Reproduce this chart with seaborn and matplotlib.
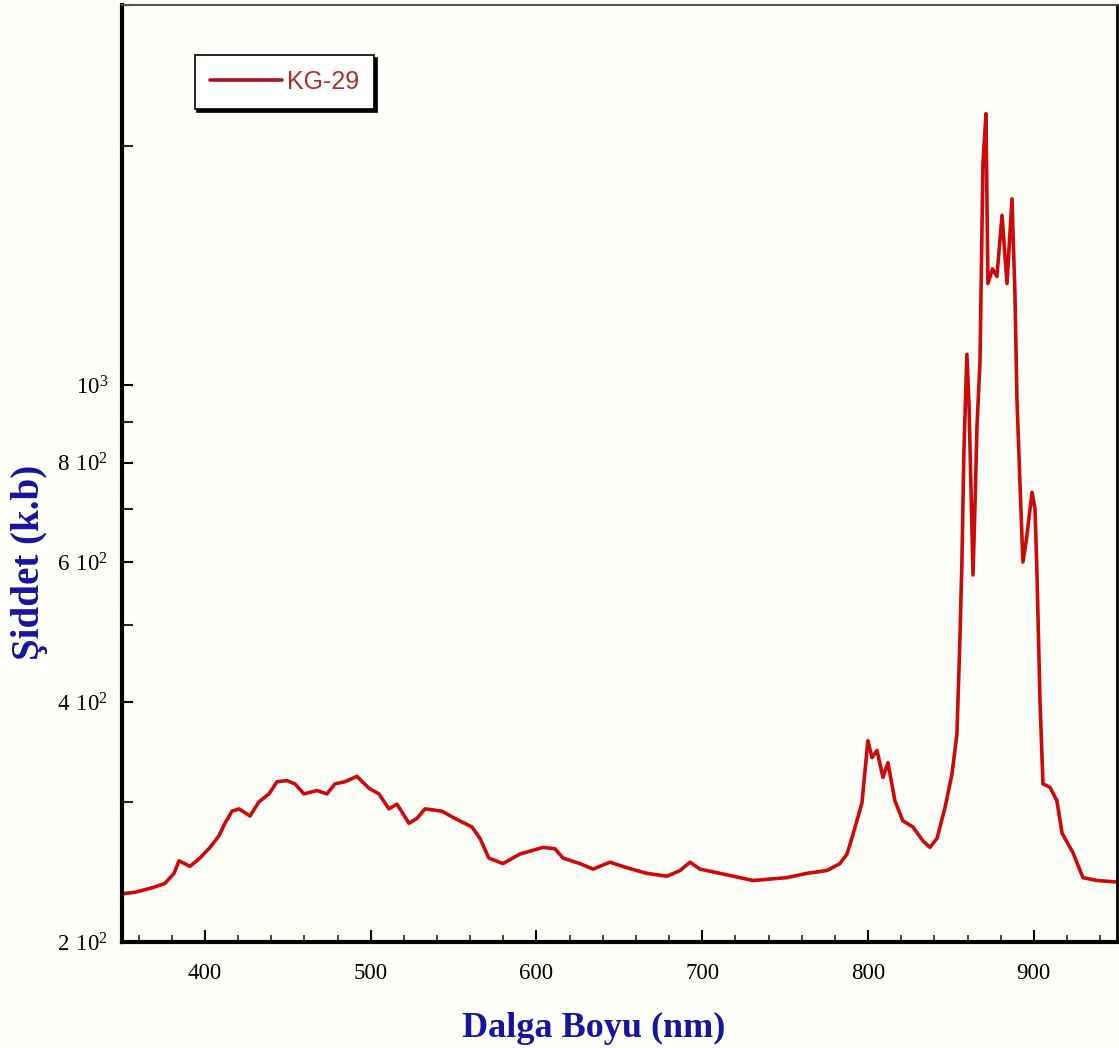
import matplotlib
matplotlib.use("Agg")
import matplotlib.pyplot as plt
from matplotlib.ticker import FixedLocator, FixedFormatter, NullFormatter, MultipleLocator
import numpy as np
import pandas as pd
import seaborn as sns

# Spectrum of sample KG-29: wavelength (nm) and intensity (arb. units)
wavelength = [
    350.0, 357.8, 368.1, 375.9, 381.4, 384.4, 391.0, 397.0, 403.1, 408.5,
    412.1, 416.3, 420.6, 427.2, 432.6, 438.7, 443.5, 449.5, 454.3, 459.8,
    467.6, 473.6, 478.5, 484.5, 491.7, 499.0, 505.0, 511.0, 515.9, 523.1,
    527.9, 532.8, 543.0, 550.8, 561.1, 565.9, 571.3, 579.8, 590.0, 603.9,
    611.2, 616.0, 626.2, 634.1, 644.3, 654.6, 666.6, 678.7, 686.6, 692.6,
    698.6, 710.7, 722.7, 730.6, 740.8, 751.1, 763.1, 775.2, 783.0, 787.3,
    790.9, 796.3, 799.9, 802.4, 805.4, 809.0, 812.0, 816.2, 821.0, 827.1,
    833.1, 837.3, 841.6, 846.4, 850.6, 853.6, 855.4, 856.6, 857.8, 859.6,
    860.9, 863.3, 864.5, 865.7, 867.5, 869.3, 871.1, 872.3, 875.0, 877.7,
    880.8, 883.8, 886.8, 888.6, 889.8, 891.6, 893.4, 895.5, 898.9, 900.7,
    901.9, 903.7, 905.5, 909.7, 913.9, 917.0, 923.6, 929.6, 938.1, 950.0,
]
intensity = [
    230, 231, 234, 237, 244, 253, 249, 255, 263, 272,
    282, 292, 294, 288, 300, 307, 318, 319, 316, 307,
    310, 307, 316, 318, 323, 312, 307, 294, 298, 282,
    286, 294, 292, 286, 279, 270, 255, 251, 258, 263,
    262, 255, 251, 247, 252, 248, 244, 242, 246, 252,
    247, 244, 241, 239, 240, 241, 244, 246, 251, 258,
    273, 299, 358, 341, 348, 322, 336, 301, 284, 279,
    268, 263, 270, 295, 325, 365, 480, 600, 824, 1094,
    944, 578, 709, 890, 1068, 1898, 2193, 1342, 1400, 1370,
    1634, 1342, 1714, 1300, 960, 756, 600, 640, 734, 700,
    578, 401, 316, 313, 301, 274, 259, 241, 239, 238,
]

x_major = [400, 500, 600, 700, 800, 900]
y_major = [200, 400, 600, 800, 1000]
y_major_labels = [r"$\mathregular{2\ 10^{2}}$", r"$\mathregular{4\ 10^{2}}$",
                  r"$\mathregular{6\ 10^{2}}$", r"$\mathregular{8\ 10^{2}}$",
                  r"$\mathregular{10^{3}}$"]
y_minor = [300, 500, 700, 900, 2000, 3000]

df = pd.DataFrame({"Dalga Boyu (nm)": wavelength, "Şiddet (k.b)": intensity})

sns.set_style("ticks")
plt.rcParams["font.family"] = ["Liberation Serif", "DejaVu Serif"]
plt.rcParams["mathtext.fontset"] = "custom"
plt.rcParams["mathtext.rm"] = "Liberation Serif"

fig = plt.figure(figsize=(11.19, 10.48), dpi=100, facecolor="#fffffc")
ax = fig.add_axes([0.109, 0.101, 0.889, 0.894])
ax.set_facecolor("#fffffa")

sns.lineplot(data=df, x="Dalga Boyu (nm)", y="Şiddet (k.b)", ax=ax,
             color="#cc0a0a", linewidth=2.6, label="KG-29", sort=False)

ax.set_yscale("log")
ax.set_xlim(350, 950)
ax.set_ylim(200, 3000)

ax.xaxis.set_major_locator(FixedLocator(x_major))
ax.xaxis.set_minor_locator(MultipleLocator(20))
ax.yaxis.set_major_locator(FixedLocator(y_major))
ax.yaxis.set_major_formatter(FixedFormatter(y_major_labels))
ax.yaxis.set_minor_locator(FixedLocator(y_minor))
ax.yaxis.set_minor_formatter(NullFormatter())

ax.tick_params(axis="x", which="major", direction="in", length=9, width=1.5,
               labelsize=16.5, pad=15, colors="black")
ax.tick_params(axis="x", which="minor", direction="in", length=5, width=1.2)
ax.tick_params(axis="y", which="major", direction="in", length=8, width=1.5,
               labelsize=16.5, pad=10, colors="black")
ax.tick_params(axis="y", which="minor", direction="in", length=8, width=1.5)

for side, lw in (("left", 3.0), ("bottom", 3.0), ("right", 2.0), ("top", 1.5)):
    ax.spines[side].set_visible(True)
    ax.spines[side].set_linewidth(lw)
    ax.spines[side].set_color("black")
ax.spines["top"].set_color("#555555")

label_color = "#1515a0"
ax.set_xlabel("Dalga Boyu (nm)", fontsize=26, fontweight="bold", color=label_color)
ax.set_ylabel("Şiddet (k.b)", fontsize=28, fontweight="bold", color=label_color)
ax.xaxis.set_label_coords(0.474, -0.074)
ax.yaxis.set_label_coords(-0.0744, 0.405)

leg = ax.legend(loc="upper left", bbox_to_anchor=(0.073, 0.947), frameon=True,
                fancybox=False, shadow={"color": "black", "alpha": 1.0},
                prop={"family": "Liberation Sans", "size": 18},
                handlelength=2.9, handletextpad=0.2, borderpad=0.6,
                borderaxespad=0.0)
leg.get_frame().set_edgecolor("black")
leg.get_frame().set_linewidth(1.2)
leg.get_frame().set_facecolor("white")
for t in leg.get_texts():
    t.set_color("#a8302a")
for h in leg.get_lines():
    h.set_color("#a81414")
    h.set_linewidth(2.6)

fig.savefig("out.png", dpi=100, facecolor=fig.get_facecolor())
